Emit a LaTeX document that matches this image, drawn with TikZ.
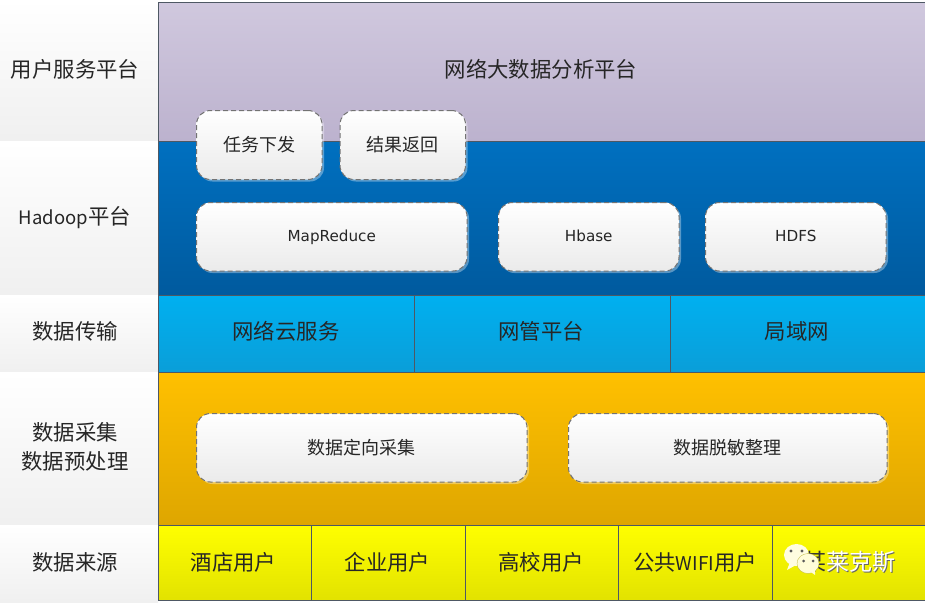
\documentclass[tikz,border=0pt]{standalone}
\usepackage{fontspec}
\setmainfont{DejaVu Sans}
\newfontfamily\cjk{Noto Sans CJK SC}
\usetikzlibrary{shadows}
\definecolor{lineg}{HTML}{4E5864}
\tikzset{
  x=1pt,y=-1pt,
  big/.style={font=\cjk\fontsize{21.4}{29}\selectfont,text=black!85},
  band/.style={draw=lineg,line width=.8pt,inner sep=0pt,anchor=north west},
  side/.style={inner sep=0pt,anchor=north west,shade,top color=white,bottom color=black!6},
  sidetext/.style={big,inner sep=0pt,align=center},
  purple/.style={band,shade,top color={rgb,255:red,208;green,200;blue,222},bottom color={rgb,255:red,188;green,178;blue,206}},
  blueb/.style={band,shade,top color={rgb,255:red,0;green,112;blue,192},bottom color={rgb,255:red,0;green,90;blue,158}},
  cyanb/.style={band,shade,top color={rgb,255:red,0;green,176;blue,240},bottom color={rgb,255:red,10;green,158;blue,216}},
  orangeb/.style={band,shade,top color={rgb,255:red,255;green,192;blue,0},bottom color={rgb,255:red,222;green,166;blue,0}},
  yellowb/.style={band,shade,top color={rgb,255:red,255;green,255;blue,0},bottom color={rgb,255:red,226;green,226;blue,0}},
  card/.style={rectangle,rounded corners=14pt,anchor=north west,inner sep=0pt,draw=black!55,line width=1pt,dash pattern=on 5pt off 3pt,
     shade,top color=white,bottom color=black!8,text=black!85,
     drop shadow={shadow xshift=2pt,shadow yshift=-2pt,fill=white,opacity=.35}},
  cjkcard/.style={card,font=\cjk\fontsize{18}{22}\selectfont},
  latcard/.style={card,font=\fontsize{15.2}{18}\selectfont,text height=11.5pt,text depth=3pt},
}
\begin{document}
\begin{tikzpicture}
\useasboundingbox (0,0) rectangle (925,602);
\fill[white] (0,0) rectangle (925,602);
% left column
\node[side,minimum width=158pt,minimum height=141pt] (s1) at (0,0) {};
\node[side,minimum width=158pt,minimum height=154pt] (s2) at (0,141) {};
\node[side,minimum width=158pt,minimum height=77pt] (s3) at (0,295) {};
\node[side,minimum width=158pt,minimum height=153pt] (s4) at (0,372) {};
\node[side,minimum width=158pt,minimum height=77pt] (s5) at (0,525) {};
\node[sidetext] (l1) at (75,69) {用户服务平台};
\node[sidetext] (l2) at (75,217.5) {{\fontsize{18.5}{24}\selectfont Hadoop}平台};
\node[sidetext] (l3) at (75,331) {数据传输};
\node[sidetext] (l4) at (75,446.5) {数据采集\\数据预处理};
\node[sidetext] (l5) at (75,562) {数据来源};
% bands
\node[purple,minimum width=767pt,minimum height=139pt] (p) at (158,2) {};
\node[sidetext] (ptitle) at (541,69) {网络大数据分析平台};
\node[blueb,minimum width=767pt,minimum height=154pt] (b) at (158,141) {};
\node[cyanb,minimum width=256pt,minimum height=77pt] (c1) at (158,295) {};
\node[cyanb,minimum width=256pt,minimum height=77pt] (c2) at (414,295) {};
\node[cyanb,minimum width=255pt,minimum height=77pt] (c3) at (670,295) {};
\node[sidetext] (c1t) at (286,331) {网络云服务};
\node[sidetext] (c2t) at (541,331) {网管平台};
\node[sidetext] (c3t) at (797,331) {局域网};
\node[orangeb,minimum width=767pt,minimum height=153pt] (o) at (158,372) {};
\node[yellowb,minimum width=153pt,minimum height=75pt] (y1) at (158,525) {};
\node[yellowb,minimum width=154pt,minimum height=75pt] (y2) at (311,525) {};
\node[yellowb,minimum width=153pt,minimum height=75pt] (y3) at (465,525) {};
\node[yellowb,minimum width=154pt,minimum height=75pt] (y4) at (618,525) {};
\node[yellowb,minimum width=153pt,minimum height=75pt] (y5) at (772,525) {};
\node[sidetext] (y1t) at (233.5,562) {酒店用户};
\node[sidetext] (y2t) at (387.5,562) {企业用户};
\node[sidetext] (y3t) at (541,562) {高校用户};
\node[sidetext] (y4t) at (695,562) {公共{\fontsize{19}{24}\selectfont WIFI}用户};
% cards
\node[cjkcard,minimum width=125.5pt,minimum height=69pt] (t1) at (196,110) {任务下发};
\node[cjkcard,minimum width=125.5pt,minimum height=69pt] (t2) at (339.5,110) {结果返回};
\node[latcard,minimum width=270.5pt,minimum height=68.5pt] (m) at (196,202) {MapReduce};
\node[latcard,minimum width=180.5pt,minimum height=68.5pt] (h) at (498,202) {Hbase};
\node[latcard,minimum width=180.5pt,minimum height=68.5pt] (d) at (705,202) {HDFS};
\node[cjkcard,minimum width=330.5pt,minimum height=68.5pt] (e1) at (196,413) {数据定向采集};
\node[cjkcard,minimum width=318.5pt,minimum height=68.5pt] (e2) at (568,413) {数据脱敏整理};
% watermark
\node[font=\cjk\fontsize{23}{24}\selectfont,text=black!80,inner sep=0pt] (wm0) at (815,562) {某};
\node[font=\cjk\fontsize{23}{24}\selectfont,text=black!60,inner sep=0pt] (wms) at (862,563) {莱克斯};
\node[font=\cjk\fontsize{23}{24}\selectfont,text=white,inner sep=0pt] (wm) at (861,562) {莱克斯};
\fill[white!88!yellow] (796.5,555) ellipse (12.5 and 11);
\fill[white!88!yellow] (787,570) -- (790,562) -- (796,565) -- cycle;
\fill[black!65] (791,551) circle (1.6) (802,551) circle (1.6);
\fill[white!85!yellow,draw=yellow!70!black,line width=.3pt] (808,563.5) ellipse (11 and 10);
\fill[white!85!yellow] (815,575) -- (808,570) -- (815,568) -- cycle;
\fill[black!65] (803.5,561) circle (1.5) (813,561) circle (1.5);
\end{tikzpicture}
\end{document}
